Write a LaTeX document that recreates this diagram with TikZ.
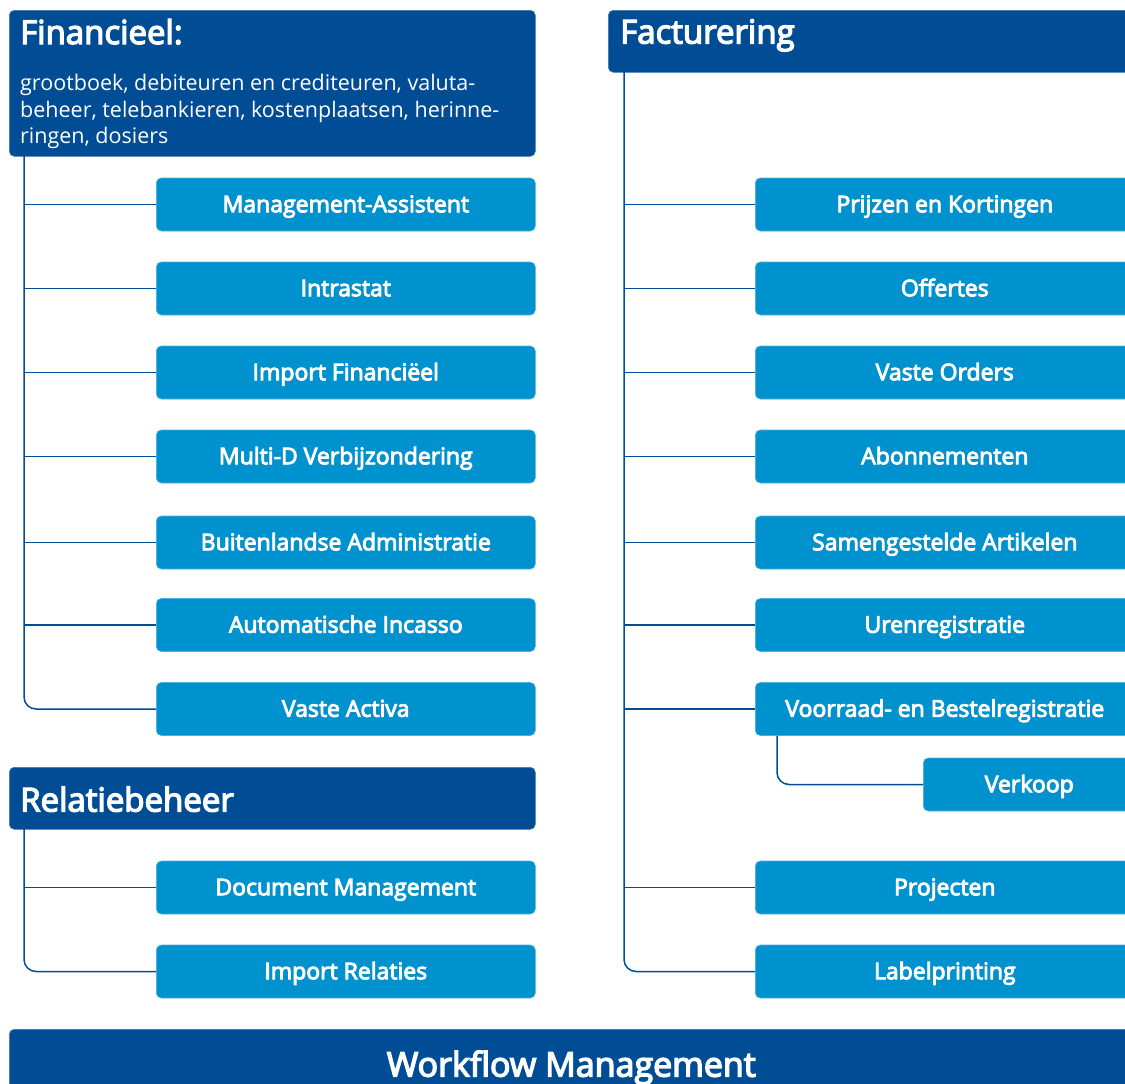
\documentclass[tikz,border=0pt]{standalone}
\usepackage{fontspec}
\setmainfont{Open Sans}
\newfontfamily\semifont{Open Sans}[FakeBold=4]
\definecolor{hdrblue}{RGB}{0,77,150}
\definecolor{itemblue}{RGB}{0,145,207}
\begin{document}
\begin{tikzpicture}[x=1pt,y=-1pt,
  hdrbox/.style={fill=hdrblue, draw=hdrblue!75!white, line width=0.6pt, rounded corners=5pt, inner sep=0pt, anchor=north west},
  itembox/.style={fill=itemblue, draw=itemblue!70!white, line width=0.6pt, rounded corners=5pt, inner sep=0pt, anchor=west,
    minimum width=379pt, minimum height=53pt, text=white, font=\fontsize{23}{25}\semifont,
    text height=15.5pt, text depth=0pt},
  titletext/.style={text=white, inner sep=0pt, font=\fontsize{33}{40}\semifont},
  desctext/.style={text=white, inner sep=0pt, anchor=base west, font=\fontsize{21.5}{26}\selectfont},
  conn/.style={draw=hdrblue, line width=1.5pt},
  tree/.style={conn, rounded corners=12pt}]
\useasboundingbox (0,0) rectangle (1125,1084);
\clip (0,0) rectangle (1125,1084);

% ---------- Financieel ----------
\node[hdrbox, minimum width=526pt, minimum height=146pt] (fin) at (9,10) {};
\node[titletext, anchor=base west] (fint) at (20,44) {Financieel:};
\node[desctext] (find1) at (20,90) {grootboek, debiteuren en crediteuren, valuta-};
\node[desctext] (find2) at (20,117) {beheer, telebankieren, kostenplaatsen, herinne-};
\node[desctext] (find3) at (20,143) {ringen, dosiers};

\node[itembox] (fa1) at (156,204.5) {Management-Assistent};
\node[itembox] (fa2) at (156,288.5) {Intrastat};
\node[itembox] (fa3) at (156,372.5) {Import Financiëel};
\node[itembox] (fa4) at (156,456.5) {Multi-D Verbijzondering};
\node[itembox] (fa5) at (156,542.5) {Buitenlandse Administratie};
\node[itembox] (fa6) at (156,625) {Automatische Incasso};
\node[itembox] (fa7) at (156,709) {Vaste Activa};

\coordinate (ltop) at (24,156);
\draw[tree] (ltop) |- (fa7.west);
\foreach \n in {fa1,fa2,fa3,fa4,fa5,fa6}
  \draw[conn] (\n.west) -- (\n.west -| ltop);

% ---------- Relatiebeheer ----------
\node[hdrbox, minimum width=526pt, minimum height=62pt] (rel) at (9,767) {};
\node[titletext, anchor=base west] (relt) at (20,811.5) {Relatiebeheer};
\node[itembox] (ra1) at (156,887.5) {Document Management};
\node[itembox] (ra2) at (156,971.5) {Import Relaties};
\coordinate (ltop2) at (24,829);
\draw[tree] (ltop2) |- (ra2.west);
\draw[conn] (ra1.west) -- (ra1.west -| ltop2);

% ---------- Facturering ----------
\node[hdrbox, minimum width=526pt, minimum height=62pt] (fac) at (608,10) {};
\node[titletext, anchor=base west] (fact) at (620,43.5) {Facturering};

\node[itembox] (fb1) at (755,204.5) {Prijzen en Kortingen};
\node[itembox] (fb2) at (755,288.5) {Offertes};
\node[itembox] (fb3) at (755,372.5) {Vaste Orders};
\node[itembox] (fb4) at (755,456.5) {Abonnementen};
\node[itembox] (fb5) at (755,542.5) {Samengestelde Artikelen};
\node[itembox] (fb6) at (755,625) {Urenregistratie};
\node[itembox] (fb7) at (755,709) {Voorraad- en Bestelregistratie};
\node[itembox, minimum width=212pt] (fb8) at (923,784.5) {Verkoop};
\node[itembox] (fb9) at (755,887.5) {Projecten};
\node[itembox] (fb10) at (755,971.5) {Labelprinting};

\coordinate (rtop) at (624,72);
\draw[tree] (rtop) |- (fb10.west);
\foreach \n in {fb1,fb2,fb3,fb4,fb5,fb6,fb7,fb9}
  \draw[conn] (\n.west) -- (\n.west -| rtop);
\draw[tree] ([xshift=22pt]fb7.south west) |- (fb8.west);

% ---------- Workflow Management ----------
\node[hdrbox, minimum width=1124pt, minimum height=70pt, titletext, font=\fontsize{34}{40}\semifont, text height=24.5pt, text depth=0pt] (wf) at (9,1029) {Workflow Management};
\end{tikzpicture}
\end{document}
